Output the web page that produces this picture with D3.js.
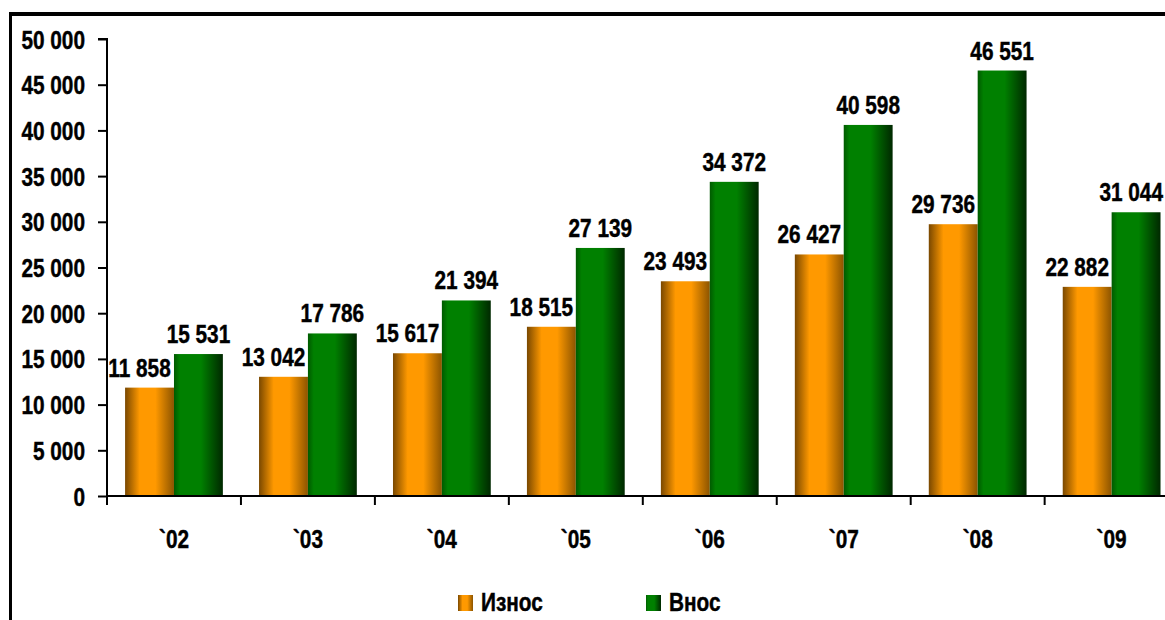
<!DOCTYPE html>
<html><head><meta charset="utf-8">
<script src="https://cdn.jsdelivr.net/npm/d3@7"></script>
<style>
html,body{margin:0;padding:0;background:#fff;overflow:hidden}
text{font-family:"Liberation Sans",Arial,sans-serif;font-weight:bold;fill:#000;stroke:#000;stroke-width:0.45px}
</style></head>
<body><svg id="c" width="1165" height="620"></svg>
<script>
const categories = ["`02","`03","`04","`05","`06","`07","`08","`09"];
const seriesNames = ["Износ","Внос"];
const exportValues = [11858,13042,15617,18515,23493,26427,29736,22882];
const importValues = [15531,17786,21394,27139,34372,40598,46551,31044];
const yTicks = [0,5000,10000,15000,20000,25000,30000,35000,40000,45000,50000];

const svg = d3.select("#c");
const defs = svg.append("defs");
function grad(id, stops){
  const g = defs.append("linearGradient").attr("id",id).attr("x1","0").attr("x2","1").attr("y1","0").attr("y2","0");
  stops.forEach(s=>g.append("stop").attr("offset",s[0]).attr("stop-color",s[1]));
}
grad("gOr",[[0,"#7a4800"],[0.3,"#ff9900"],[0.62,"#ff9900"],[1,"#8c5400"]]);
grad("gGr",[[0,"#005a00"],[0.12,"#008000"],[0.55,"#008000"],[1,"#002800"]]);
const fills = ["url(#gOr)","url(#gGr)"];

const SX = 0.8; // horizontal condensing (Arial Narrow look)
function ntext(parent, x, yy, str, size, anchor){
  const t = parent.append("text")
    .attr("transform", `translate(${x},${yy}) scale(${SX},1)`)
    .attr("text-anchor", anchor).style("font-size", size+"px").text(str);
  return t;
}

const x0L = 107, stepW = 133.95;
const y = d3.scaleLinear().domain([0,50000]).range([496,39]);
const x0 = d3.scaleBand().domain(categories).range([x0L, x0L + stepW*categories.length]).paddingInner(0.27).paddingOuter(0.135);
const x1 = d3.scaleBand().domain([0,1]).range([0, x0.bandwidth()]);
const fmt = v => d3.format(",")(v).replace(/,/g," ");

// frame
svg.append("rect").attr("x",9).attr("y",12).attr("width",1156).attr("height",4).attr("fill","#000");
svg.append("rect").attr("x",9).attr("y",12).attr("width",3).attr("height",608).attr("fill","#000");

// bars
const data = categories.map((c,i)=>({c, v:[exportValues[i], importValues[i]]}));
const g = svg.append("g");
data.forEach(d=>{
  d.v.forEach((v,s)=>{
    g.append("rect")
      .attr("x", x0(d.c)+x1(s)).attr("width", x1.bandwidth())
      .attr("y", y(v)).attr("height", y(0)-y(v))
      .attr("fill", fills[s]);
  });
});

// y axis
const yAxis = svg.append("g").attr("transform",`translate(${x0L},0)`)
  .call(d3.axisLeft(y).tickValues(yTicks).tickSize(9).tickFormat(""));
yAxis.select(".domain").attr("stroke","#000").attr("stroke-width",2).attr("d",`M-9,${y(50000)}H0V${y(0)}`);
yAxis.selectAll(".tick line").attr("stroke","#000").attr("stroke-width",2);
yTicks.forEach(t=>{
  ntext(svg, 85, y(t)+9.5, fmt(t), 26, "end");
});

// x axis
const xAxisG = svg.append("g").attr("transform",`translate(0,${y(0)})`);
xAxisG.append("line").attr("x1",x0L).attr("x2",x0L+stepW*categories.length).attr("y1",0).attr("y2",0).attr("stroke","#000").attr("stroke-width",2);
d3.range(categories.length+1).forEach(i=>{
  const xx = x0L + i*stepW;
  xAxisG.append("line").attr("x1",xx).attr("x2",xx).attr("y1",0).attr("y2",9).attr("stroke","#000").attr("stroke-width",2);
});
categories.forEach(c=>{
  ntext(xAxisG, x0(c)+x0.bandwidth()/2, 52, c, 26, "middle");
});

// value labels (kept inside the visible area like the original)
const labelDx = [-10, 0];
data.forEach(d=>{
  d.v.forEach((v,s)=>{
    let cx = x0(d.c)+x1(s)+x1.bandwidth()/2+labelDx[s];
    const t = ntext(g, cx, y(v)-11, fmt(v), 26, "middle");
    const w = t.node().getBBox().width*SX;
    if (cx + w/2 > 1163) {
      cx = 1163 - w/2;
      t.attr("transform", `translate(${cx},${y(v)-11}) scale(${SX},1)`);
    }
  });
});

// legend
const legend = svg.append("g");
const legX = [458, 646];
seriesNames.forEach((n,s)=>{
  legend.append("rect").attr("x",legX[s]).attr("y",595).attr("width",15).attr("height",16).attr("fill",fills[s]);
  ntext(legend, legX[s]+23, 611, n, 26, "start");
});
</script></body></html>
